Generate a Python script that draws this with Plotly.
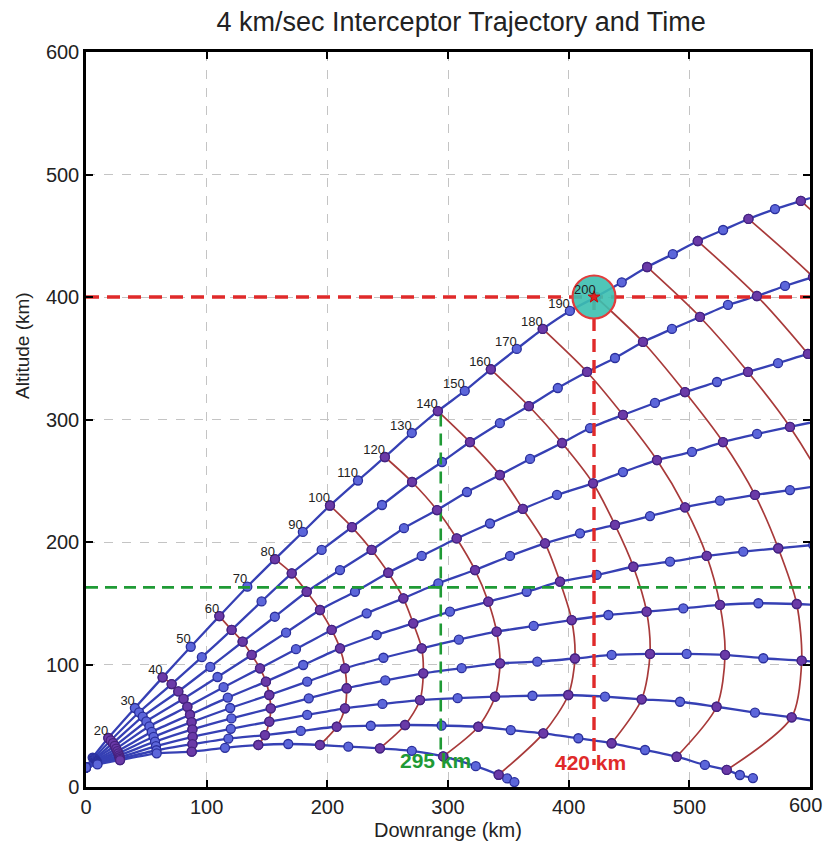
import plotly.graph_objects as go

# ---------------- data ----------------
TIME_STEP = 10  # seconds between successive points of a trajectory

# Each trajectory: (downrange km, altitude km) at t = 0, 10, 20, ... s
traj_0 = [(0, 16), (5.5, 24), (18.5, 40), (40.5, 64.5), (63.5, 89.5), (86.8, 114.5), (110.5, 139.5),
          (133.7, 163.5), (156.6, 186), (179.7, 208.2), (202.2, 229.8), (225.4, 250.2), (247.7, 269.4),
          (270, 289), (291.6, 306.9), (313.9, 323.3), (335.5, 341), (357, 357.6), (378.5, 373.9),
          (401, 388.6), (422.5, 400), (444, 412), (465, 424.5), (486.3, 435), (507, 445.7),
          (528, 454.7), (549, 463.7), (571, 471.8), (592.4, 478.4), (614, 485)]
traj_1 = [(0, 16), (6.3, 23.6), (20.5, 38), (44, 61), (71, 84), (96, 106), (120.7, 128.2), (145.5, 151.5),
          (170.5, 174.4), (195.3, 193.5), (220.4, 212.2), (245.3, 230.2), (270.2, 249), (295, 265.3),
          (318.2, 281.6), (343, 297), (367, 311), (391, 325.7), (415.2, 338.8), (438.4, 350.2),
          (461.6, 363.3), (485.6, 373.9), (508.8, 383.7), (532, 393.5), (556, 400.8), (579.3, 409),
          (602.5, 416.3), (626, 423), (649, 429)]
traj_2 = [(0, 16), (7, 23.1), (22.3, 35.8), (47, 57.5), (76.5, 78), (103, 98), (129.8, 118.6), (156.5, 139),
          (182.9, 159.4), (210.5, 177.1), (236.7, 193.5), (263.5, 211.3), (290.9, 226.1), (315.7, 240.8),
          (343, 254.7), (368, 267.8), (394.5, 280.8), (417.7, 293), (445, 303.7), (471.5, 313.5),
          (496.4, 322.4), (522.9, 330.6), (548.6, 338.8), (573.5, 346), (598.3, 353.5), (623, 360),
          (648, 366)]
traj_3 = [(0, 16), (7.6, 22.6), (23.8, 33.5), (50, 53.5), (80.8, 72), (109, 89.8), (137.3, 107.8),
          (165.8, 126), (193.9, 144.5), (222.9, 159.4), (250.5, 174.9), (278.2, 188.6), (307.2, 202.9),
          (334.8, 215.1), (362, 227), (390.3, 238.4), (420.2, 247.9), (445, 257.1), (473.2, 266.9),
          (502.2, 273.5), (527.9, 281.6), (556.1, 288.2), (583.4, 293.9), (611, 299.5), (638, 304)]
traj_4 = [(0, 16), (8.1, 22), (25, 31.3), (52.5, 49.5), (84, 65.5), (114, 81.5), (144.2, 96.9),
          (174, 112.5), (203.6, 128.2), (232.6, 141.8), (263, 154), (292, 166.3), (322.4, 177.1),
          (351.4, 188.6), (380.4, 198.9), (409.4, 207.1), (438.4, 213.9), (467.4, 221.2), (496.4, 228.3),
          (525.4, 233.7), (554.4, 238.4), (583.4, 242.4), (612, 246.5)]
traj_5 = [(0, 16), (8.5, 21.4), (26, 29.3), (54.5, 45), (86.2, 59), (117.5, 73), (149.1, 86),
          (180, 99.6), (210.5, 113.2), (240.9, 124.1), (271.2, 133.6), (301.6, 143.1), (333.4, 151.3),
          (365.2, 159.4), (392.8, 167.6), (423.2, 173.1), (453.6, 179.8), (484, 183.9), (514.4, 188.6),
          (544.7, 192.1), (573.7, 194.9), (602.7, 197.6), (632, 200)]
traj_6 = [(0, 16), (8.8, 20.8), (26.8, 27.5), (56, 41), (87.5, 53), (119.5, 64.5), (151.9, 75.1),
          (183.3, 86), (214.6, 96.9), (246.5, 105.5), (278.2, 113.2), (309, 120.3), (340.3, 126.8),
          (371, 131.5), (402.5, 136.3), (432.9, 140.4), (464.6, 143.1), (495, 145.8), (525.4, 148.6),
          (557.2, 150), (589, 149.4), (620, 148)]
traj_7 = [(0, 16), (9.1, 20.2), (27.4, 25.8), (57.2, 37), (88.2, 47), (120.5, 56), (153.1, 64.2),
          (184.6, 72.4), (216, 80.6), (248, 87), (279.5, 92.8), (311.3, 97), (343.1, 101),
          (374, 102.3), (405.2, 104.9), (435.6, 107.8), (467.4, 108.6), (497.8, 108.6), (529.6, 107.8),
          (561.3, 105.1), (593.1, 103.1), (625, 100)]
traj_8 = [(0, 16), (9.3, 19.6), (27.8, 24.3), (58, 33.3), (88.4, 41), (120, 47.5), (151.9, 53.3),
          (183.3, 58.8), (214.6, 64.2), (245.7, 67.8), (276.8, 71), (308, 72.5), (339, 73.7),
          (370, 74.5), (399.7, 75.1), (430.1, 73.7), (460.5, 71.6), (492.3, 69.6), (522.6, 65.5),
          (554.4, 60.7), (584.8, 56.9), (614, 52)]
traj_9 = [(0, 16), (9.4, 19), (28.1, 23), (58.4, 30), (88.2, 35), (118, 39.5), (148.3, 42.4),
          (178, 45.8), (207.8, 49.2), (236, 50), (264.4, 50.6), (294.7, 50.2), (325.1, 49.2),
          (352, 46.5), (379, 43.8), (408, 39.8), (435.6, 35.7), (463.3, 30.2), (489.5, 24.7),
          (512.9, 18), (531, 13.9)]
traj_10 = [(0, 16), (9.5, 18.4), (28.2, 22), (58.6, 27.5), (87.6, 28.8), (115.2, 32), (142.8, 34.3),
           (167.6, 35.1), (193.9, 34.3), (217.4, 32.9), (243.6, 31.6), (270, 29.5), (296, 25),
           (323, 17), (342, 10)]
# extra samples recorded down to the ground impact
impact_9 = [(541.9, 9.8), (552.7, 7.3)]
impact_10 = [(349, 7), (355, 4)]

ISO_TIMES = list(range(20, 300, 20))      # red iso-time curves
LABEL_TIMES = list(range(20, 210, 10))    # time labels along the top trajectory
X_TICKS = [0, 100, 200, 300, 400, 500, 600]
Y_TICKS = [0, 100, 200, 300, 400, 500, 600]

LOW_INTERCEPT_X = 294    # "295 km"
LOW_INTERCEPT_ALT = 163
HIGH_INTERCEPT_X = 421   # "420 km"
HIGH_INTERCEPT_ALT = 400
LOW_LABEL = "295 km"
HIGH_LABEL = "420 km"

TITLE = "4 km/sec Interceptor Trajectory and Time"
X_TITLE = "Downrange (km)"
Y_TITLE = "Altitude (km)"

# ---------------- styles ----------------
BLUE = "#3640b4"
M_FILL = "#5c66da"
M_EDGE = "#2a2f9c"
ARC = "#a83a3a"
PURPLE_FILL = "#6a3aa8"
PURPLE_EDGE = "#47227e"
FONT = "Liberation Sans, Arial, sans-serif"
TEXT_COLOR = "#222222"

trajs = [traj_0, traj_1, traj_2, traj_3, traj_4, traj_5, traj_6, traj_7, traj_8, traj_9, traj_10]
impacts = {9: impact_9, 10: impact_10}

fig = go.Figure()

# trajectories with 10-s markers
for k, pts in enumerate(trajs):
    full = pts + impacts.get(k, [])
    fig.add_trace(go.Scatter(
        x=[p[0] for p in full], y=[p[1] for p in full], mode="lines+markers",
        line=dict(color=BLUE, width=2.3, shape="spline", smoothing=0.6),
        marker=dict(size=9, color=M_FILL, line=dict(color=M_EDGE, width=1.3)),
        hoverinfo="skip", showlegend=False))

# iso-time curves
arc_pts_all = []
for t in ISO_TIMES:
    i = t // TIME_STEP
    pts = [tr[i] for tr in trajs if i < len(tr)]
    arc_pts_all.extend(pts)
    fig.add_trace(go.Scatter(
        x=[p[0] for p in pts], y=[p[1] for p in pts], mode="lines",
        line=dict(color=ARC, width=1.7, shape="spline", smoothing=0.8),
        hoverinfo="skip", showlegend=False))

# reference dashed lines
fig.add_trace(go.Scatter(x=[0, 600], y=[LOW_INTERCEPT_ALT, LOW_INTERCEPT_ALT], mode="lines",
                         line=dict(color="#1f9a35", width=2.6, dash="12px,7px"),
                         hoverinfo="skip", showlegend=False))
fig.add_trace(go.Scatter(x=[LOW_INTERCEPT_X, LOW_INTERCEPT_X], y=[304, 30], mode="lines",
                         line=dict(color="#1f9a35", width=2.6, dash="12px,7px"),
                         hoverinfo="skip", showlegend=False))
fig.add_trace(go.Scatter(x=[0, 600], y=[HIGH_INTERCEPT_ALT, HIGH_INTERCEPT_ALT], mode="lines",
                         line=dict(color="#e02a2a", width=3.4, dash="13px,8px"),
                         hoverinfo="skip", showlegend=False))
fig.add_trace(go.Scatter(x=[HIGH_INTERCEPT_X, HIGH_INTERCEPT_X], y=[HIGH_INTERCEPT_ALT, 18], mode="lines",
                         line=dict(color="#e02a2a", width=3.4, dash="13px,8px"),
                         hoverinfo="skip", showlegend=False))

# 20-s markers (on the iso-time curves)
fig.add_trace(go.Scatter(
    x=[p[0] for p in arc_pts_all], y=[p[1] for p in arc_pts_all], mode="markers",
    marker=dict(size=9, color=PURPLE_FILL, line=dict(color=PURPLE_EDGE, width=1.3)),
    hoverinfo="skip", showlegend=False))

# intercept point
fig.add_trace(go.Scatter(
    x=[HIGH_INTERCEPT_X], y=[HIGH_INTERCEPT_ALT], mode="markers",
    marker=dict(size=43, color="rgba(60,192,176,0.9)", line=dict(color="#e23c3c", width=2.2)),
    hoverinfo="skip", showlegend=False))
fig.add_trace(go.Scatter(
    x=[HIGH_INTERCEPT_X], y=[HIGH_INTERCEPT_ALT], mode="markers",
    marker=dict(size=9, symbol="star", color="#e02020", line=dict(color="#c01010", width=1)),
    hoverinfo="skip", showlegend=False))

# time labels
lab_pts = [traj_0[t // TIME_STEP] for t in LABEL_TIMES]
fig.add_trace(go.Scatter(
    x=[p[0] for p in lab_pts], y=[p[1] for p in lab_pts], mode="text",
    text=[str(t) for t in LABEL_TIMES], textposition="top left",
    textfont=dict(family=FONT, size=13, color=TEXT_COLOR),
    hoverinfo="skip", showlegend=False))

# x tick labels: the last one is drawn right-aligned so it stays inside the page
x_ticktext = [str(v) for v in X_TICKS[:-1]] + [""]

annotations = [
    dict(x=LOW_INTERCEPT_X - 4, y=21.5, xref="x", yref="y", text="<b>" + LOW_LABEL + "</b>",
         showarrow=False, font=dict(family=FONT, size=21, color="#1f9a35")),
    dict(x=HIGH_INTERCEPT_X - 3, y=20, xref="x", yref="y", text="<b>" + HIGH_LABEL + "</b>",
         showarrow=False, font=dict(family=FONT, size=21, color="#e02a2a")),
    dict(x=X_TICKS[-1], y=0, xref="x", yref="paper", xanchor="right", yanchor="top",
         xshift=14, yshift=-5, text=str(X_TICKS[-1]), showarrow=False,
         font=dict(family=FONT, size=20, color=TEXT_COLOR)),
    dict(x=0.5, y=0, xref="paper", yref="paper", yanchor="top", yshift=-30,
         text=X_TITLE, showarrow=False, font=dict(family=FONT, size=20, color=TEXT_COLOR)),
    dict(x=0, y=0.6, xref="paper", yref="paper", xanchor="center", xshift=-64,
         text=Y_TITLE, textangle=-90, showarrow=False, font=dict(family=FONT, size=19, color=TEXT_COLOR)),
]

axis_common = dict(
    showgrid=True, gridcolor="#c4c4c4", gridwidth=1, griddash="dash",
    showline=True, linecolor="black", linewidth=2.5, mirror="ticks",
    ticks="inside", ticklen=7, tickwidth=2, tickcolor="black",
    zeroline=False, tickfont=dict(family=FONT, size=20, color=TEXT_COLOR),
    automargin=False,
)

fig.update_layout(
    width=825, height=846,
    margin=dict(l=86, r=15, t=52, b=59, autoexpand=False),
    paper_bgcolor="white", plot_bgcolor="white",
    title=dict(text=TITLE, x=0.559, xanchor="center", y=0.974, yanchor="middle", yref="container",
               font=dict(family=FONT, size=27, color=TEXT_COLOR)),
    xaxis=dict(range=[0, 600], tickvals=X_TICKS, ticktext=x_ticktext, **axis_common),
    yaxis=dict(range=[0, 600], tickvals=Y_TICKS, **axis_common),
    annotations=annotations,
    showlegend=False,
)

fig.write_html("out.html")
